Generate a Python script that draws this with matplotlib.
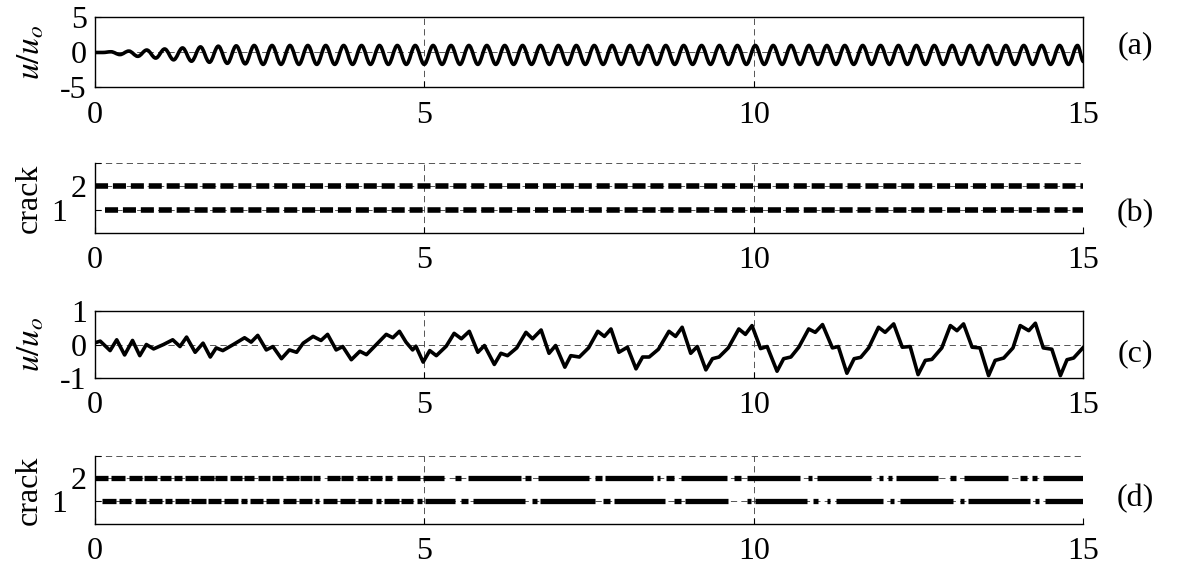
import matplotlib
matplotlib.use("Agg")
import matplotlib.pyplot as plt
from matplotlib.transforms import ScaledTranslation
from matplotlib.path import Path
from matplotlib.patches import PathPatch

plt.rcParams.update({
    "font.family": ["Liberation Serif", "DejaVu Serif"],
    "mathtext.fontset": "stix",
    "axes.unicode_minus": False,
    "lines.scale_dashes": False,
})

# ---------------- data ----------------
x_ticks = [0, 5, 10, 15]

# (a) response u/u_o : extremes
t_a = [0.000, 0.120,
       0.243, 0.379, 0.514, 0.650, 0.786, 0.922, 1.058, 1.193, 1.329, 1.465,
       1.601, 1.737, 1.872, 2.008, 2.144, 2.280,
       2.416, 2.552, 2.687, 2.823, 2.959, 3.095, 3.230, 3.366, 3.502, 3.638,
       3.774, 3.909, 4.045, 4.181, 4.317, 4.452, 4.588, 4.724, 4.860, 4.996,
       5.131, 5.267, 5.403, 5.539, 5.674, 5.810, 5.946, 6.082, 6.218, 6.353,
       6.489, 6.625, 6.761, 6.896, 7.032, 7.168, 7.304, 7.440, 7.576, 7.711,
       7.847, 7.983, 8.119, 8.254, 8.390, 8.526, 8.662, 8.798, 8.934, 9.069,
       9.205, 9.341, 9.477, 9.612, 9.748, 9.884, 10.020, 10.156, 10.292, 10.427,
       10.563, 10.699, 10.835, 10.971, 11.106, 11.242, 11.378, 11.514, 11.650, 11.785,
       11.921, 12.057, 12.193, 12.328, 12.464, 12.600, 12.736, 12.872, 13.008, 13.143,
       13.279, 13.415, 13.551, 13.687, 13.822, 13.958, 14.094, 14.230, 14.366, 14.501,
       14.637, 14.773, 14.909,
       15.000]
u_a = [0.0, 0.0,
       0.10, -0.30, 0.20, -0.55, 0.35, -0.80, 0.50, -1.05, 0.65, -1.25,
       0.80, -1.40, 0.90, -1.55, 0.95, -1.62,
       1.00, -1.70, 1.00, -1.70, 1.00, -1.70, 1.00, -1.70, 1.00, -1.70,
       1.00, -1.70, 1.00, -1.70, 1.00, -1.70, 1.00, -1.70, 1.00, -1.70,
       1.00, -1.70, 1.00, -1.70, 1.00, -1.70, 1.00, -1.70, 1.00, -1.70,
       1.00, -1.70, 1.00, -1.70, 1.00, -1.70, 1.00, -1.70, 1.00, -1.70,
       1.00, -1.70, 1.00, -1.70, 1.00, -1.70, 1.00, -1.70, 1.00, -1.70,
       1.00, -1.70, 1.00, -1.70, 1.00, -1.70, 1.00, -1.70, 1.00, -1.70,
       1.00, -1.70, 1.00, -1.70, 1.00, -1.70, 1.00, -1.70, 1.00, -1.70,
       1.00, -1.70, 1.00, -1.70, 1.00, -1.70, 1.00, -1.70, 1.00, -1.70,
       1.00, -1.70, 1.00, -1.70, 1.00, -1.70, 1.00, -1.70, 1.00, -1.70,
       1.00, -1.70, 1.00,
       -1.30]

# (b) crack states: both cracks open/close every cycle
b_levels = [2, 1]
b_start = [0.00, 0.15]
b_end = [15.0, 15.0]

# (c) response u/u_o
t_c = [0.00, 0.08, 0.23, 0.33, 0.45, 0.57, 0.68, 0.78, 0.89, 1.04,
       1.18, 1.29, 1.39, 1.52, 1.64, 1.75, 1.84, 1.94, 2.10, 2.27,
       2.37, 2.47, 2.60, 2.70, 2.83, 2.95, 3.06, 3.16, 3.31, 3.43,
       3.53, 3.66, 3.76, 3.89, 4.02, 4.12, 4.24, 4.42, 4.52, 4.62,
       4.72, 4.82, 4.87, 4.98, 5.08, 5.18, 5.33, 5.45, 5.56, 5.68,
       5.81, 5.91, 6.06, 6.16, 6.26, 6.40, 6.54, 6.64, 6.77, 6.89,
       6.99, 7.13, 7.22, 7.35, 7.49, 7.63, 7.73, 7.83, 7.95, 8.08,
       8.21, 8.31, 8.41, 8.55, 8.71, 8.81, 8.91, 9.04, 9.14, 9.27,
       9.37, 9.47, 9.61, 9.77, 9.87, 9.97, 10.10, 10.20, 10.35, 10.45,
       10.56, 10.68, 10.83, 10.93, 11.04, 11.19, 11.28, 11.41, 11.52, 11.62,
       11.74, 11.89, 11.99, 12.12, 12.25, 12.37, 12.49, 12.60, 12.70, 12.85,
       12.98, 13.08, 13.18, 13.31, 13.43, 13.56, 13.66, 13.79, 13.93, 14.04,
       14.17, 14.27, 14.39, 14.52, 14.65, 14.75, 14.85, 15.00]
u_c = [0.05, 0.10, -0.18, 0.14, -0.31, 0.12, -0.33, 0.00, -0.13, 0.00,
       0.14, -0.06, 0.22, -0.23, 0.04, -0.37, -0.10, -0.18, 0.00, 0.20,
       0.07, 0.27, -0.16, -0.06, -0.42, -0.16, -0.23, 0.04, 0.24, 0.12,
       0.30, -0.16, -0.06, -0.45, -0.20, -0.30, -0.06, 0.30, 0.20, 0.39,
       0.07, -0.16, -0.05, -0.52, -0.18, -0.33, -0.05, 0.33, 0.17, 0.39,
       -0.23, -0.03, -0.59, -0.26, -0.33, -0.10, 0.36, 0.17, 0.43, -0.26,
       -0.03, -0.67, -0.33, -0.37, -0.10, 0.39, 0.24, 0.46, -0.23, -0.08,
       -0.72, -0.37, -0.37, -0.14, 0.39, 0.24, 0.51, -0.26, -0.06, -0.75,
       -0.42, -0.37, -0.10, 0.46, 0.30, 0.56, -0.12, -0.06, -0.79, -0.42,
       -0.37, -0.08, 0.46, 0.36, 0.59, -0.10, -0.06, -0.85, -0.42, -0.38,
       -0.10, 0.51, 0.36, 0.61, -0.08, -0.06, -0.89, -0.47, -0.44, -0.10,
       0.56, 0.41, 0.61, -0.08, -0.10, -0.92, -0.47, -0.40, -0.10, 0.56,
       0.41, 0.63, -0.10, -0.14, -0.92, -0.45, -0.40, -0.08]

# (d) crack open intervals (start, end) in seconds
d_crack2 = [(0.00, 0.20), (0.25, 0.46), (0.51, 0.71), (0.74, 0.94), (0.98, 1.16),
            (1.20, 1.32), (1.37, 1.57), (1.59, 1.80), (1.82, 2.00), (2.05, 2.23),
            (2.26, 2.41), (2.48, 2.66), (2.68, 2.86), (2.90, 3.09), (3.11, 3.29),
            (3.31, 3.42), (3.52, 3.72), (3.74, 3.92), (3.97, 4.15), (4.17, 4.35),
            (4.40, 4.50), (4.58, 4.93), (4.98, 5.29), (5.46, 5.56), (5.66, 6.47),
            (6.53, 6.62), (6.73, 7.49), (7.59, 7.69), (7.74, 8.47), (8.53, 8.57),
            (8.67, 8.78), (8.90, 9.59), (9.70, 9.80), (9.89, 10.70), (10.82, 10.88),
            (10.95, 11.78), (11.90, 11.96), (12.04, 12.10), (12.16, 12.80), (12.97, 13.07),
            (13.18, 13.86), (14.04, 14.14), (14.22, 14.30), (14.38, 15.00)]
d_crack1 = [(0.10, 0.32), (0.36, 0.55), (0.60, 0.78), (0.82, 1.02), (1.07, 1.17),
            (1.22, 1.42), (1.46, 1.68), (1.72, 1.92), (1.96, 2.17), (2.22, 2.30),
            (2.35, 2.55), (2.59, 2.80), (2.85, 3.05), (3.10, 3.30), (3.34, 3.40),
            (3.46, 3.68), (3.72, 3.95), (3.99, 4.20), (4.26, 4.34), (4.39, 4.62),
            (4.65, 4.83), (4.88, 4.96), (5.01, 5.46), (5.56, 5.66), (5.74, 6.52),
            (6.63, 6.70), (6.75, 7.59), (7.71, 7.81), (7.87, 8.65), (8.78, 8.90),
            (8.95, 9.61), (9.89, 9.96), (10.02, 10.80), (10.90, 10.97), (11.11, 11.16),
            (11.25, 11.96), (12.06, 12.12), (12.22, 13.02), (13.12, 13.18), (13.25, 14.19),
            (14.26, 14.32), (14.42, 15.00)]

panel_tags = ["(a)", "(b)", "(c)", "(d)"]

# ---------------- figure ----------------
fig = plt.figure(figsize=(11.93, 5.67), dpi=100)
L, W = 0.0796, 0.8286
ax_a = fig.add_axes([L, 0.8457, W, 0.1235])
ax_b = fig.add_axes([L, 0.5896, W, 0.1224])
ax_c = fig.add_axes([L, 0.3328, W, 0.1192])
ax_d = fig.add_axes([L, 0.0758, W, 0.1205])

FS = 23


def style(ax, boxed):
    ax.set_xlim(0, 15)
    ax.set_xticks(x_ticks)
    ax.tick_params(direction="in", length=4, width=0.8, labelsize=FS)
    ax.tick_params(axis="x", pad=9.5)
    ax.tick_params(axis="y", pad=6)
    ax.grid(True, linestyle=(0, (4.5, 3)), color="#3a3a3a", linewidth=0.6)
    ax.set_axisbelow(True)
    for s in ax.spines.values():
        s.set_linewidth(1.0)
        s.set_color("k")
    if not boxed:
        ax.spines["top"].set_visible(False)
        ax.spines["right"].set_visible(False)


# (a): smooth curve through the read extremes (horizontal tangents at extremes)
style(ax_a, True)
verts = [(t_a[0], u_a[0])]
codes = [Path.MOVETO]
for i in range(1, len(t_a)):
    t0, u0, t1, u1 = t_a[i - 1], u_a[i - 1], t_a[i], u_a[i]
    dt = t1 - t0
    verts += [(t0 + 0.36 * dt, u0), (t1 - 0.36 * dt, u1), (t1, u1)]
    codes += [Path.CURVE4] * 3
ax_a.add_patch(PathPatch(Path(verts, codes), fill=False, edgecolor="k",
                         lw=2.6, joinstyle="round", capstyle="butt"))
ax_a.set_ylim(-5, 5)
ax_a.set_yticks([-5, 0, 5])
ax_a.set_ylabel(r"$u/u_o$", fontsize=24)
ax_a.yaxis.set_label_coords(-0.049, 0.5)

# (b)
style(ax_b, False)
for lvl, s, e in zip(b_levels, b_start, b_end):
    ax_b.plot([s, e], [lvl, lvl], color="k", lw=4.0, dashes=(9.4, 3.5),
              dash_capstyle="butt")
ax_b.set_ylim(0, 3)
ax_b.set_yticks([1, 2, 3])
ax_b.set_yticklabels(["1", "2", ""])
ax_b.set_ylabel("crack", fontsize=FS)
ax_b.yaxis.set_label_coords(-0.052, 0.5)

# (c)
style(ax_c, True)
ax_c.plot(t_c, u_c, color="k", lw=2.6, solid_joinstyle="round")
ax_c.set_ylim(-1, 1)
ax_c.set_yticks([-1, 0, 1])
ax_c.set_ylabel(r"$u/u_o$", fontsize=24)
ax_c.yaxis.set_label_coords(-0.049, 0.5)

# (d)
style(ax_d, False)
for lvl, segs in ((2, d_crack2), (1, d_crack1)):
    lc = ax_d.hlines([lvl] * len(segs), [s for s, _ in segs], [e for _, e in segs],
                     colors="k", lw=3.8)
    lc.set_capstyle("butt")
ax_d.set_ylim(0, 3)
ax_d.set_yticks([1, 2, 3])
ax_d.set_yticklabels(["1", "2", ""])
ax_d.set_ylabel("crack", fontsize=FS)
ax_d.yaxis.set_label_coords(-0.052, 0.5)

# shift the "1" tick label left as in the reference
for ax in (ax_b, ax_d):
    lab = ax.get_yticklabels()[0]
    lab.set_transform(lab.get_transform() + ScaledTranslation(-0.20, 0, fig.dpi_scale_trans))

# panel tags
tag_y = [46, 214, 354, 499]
for tag, yp in zip(panel_tags, tag_y):
    fig.text(1135 / 1193, 1 - yp / 567, tag, ha="center", va="center", fontsize=FS)

fig.savefig("out.png", dpi=100)
